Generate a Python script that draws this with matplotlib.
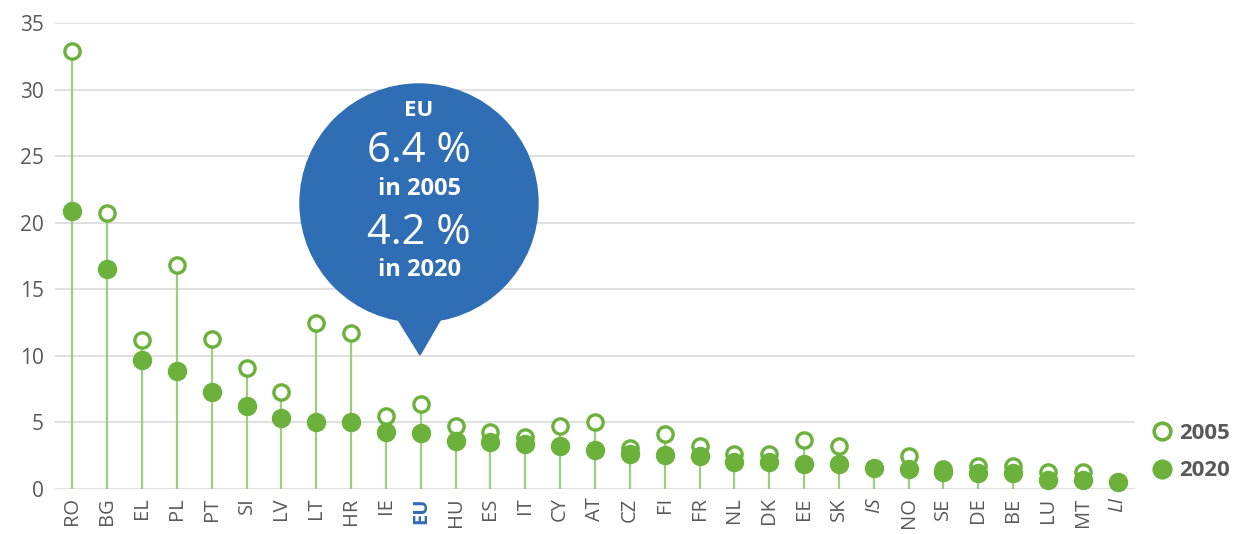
import matplotlib
matplotlib.use("Agg")
import matplotlib.pyplot as plt
from matplotlib.patches import Circle, Polygon
from matplotlib.lines import Line2D

plt.rcParams["font.family"] = ["Open Sans", "DejaVu Sans"]

# valeurs (%)
pays = ["RO", "BG", "EL", "PL", "PT", "SI", "LV", "LT", "HR", "IE", "EU",
        "HU", "ES", "IT", "CY", "AT", "CZ", "FI", "FR", "NL", "DK", "EE",
        "SK", "IS", "NO", "SE", "DE", "BE", "LU", "MT", "LI"]
v2005 = [32.9, 20.7, 11.2, 16.8, 11.3, 9.1, 7.3, 12.5, 11.7, 5.5, 6.4,
         4.7, 4.3, 3.9, 4.7, 5.0, 3.1, 4.1, 3.2, 2.6, 2.6, 3.7,
         3.2, None, 2.5, 1.5, 1.7, 1.7, 1.3, 1.3, None]
v2020 = [20.9, 16.5, 9.7, 8.9, 7.3, 6.2, 5.3, 5.0, 5.0, 4.3, 4.2,
         3.6, 3.5, 3.4, 3.2, 2.9, 2.6, 2.55, 2.45, 2.05, 2.0, 1.9,
         1.9, 1.6, 1.5, 1.3, 1.2, 1.2, 0.7, 0.7, 0.55]
italiques = ["IS", "LI"]
yticks = [0, 5, 10, 15, 20, 25, 30, 35]

VERT = "#6bb13c"
TIGE = "#9dcd7e"
BLEU = "#2f6db5"
GRIS = "#595959"

fig = plt.figure(figsize=(12.44, 5.34), dpi=100)
ax = fig.add_axes([55 / 1244, 1 - 489 / 534, 1080 / 1244, 466 / 534])

x = list(range(len(pays)))
for i in x:
    vals = [v for v in (v2005[i], v2020[i]) if v is not None]
    ax.plot([i, i], [0, max(vals)], color=TIGE, lw=1.6, zorder=2)

x05 = [i for i in x if v2005[i] is not None]
ax.plot(x05, [v2005[i] for i in x05], "o", ms=11, mfc="white", mec=VERT,
        mew=2.4, zorder=3, clip_on=False)
ax.plot(x, v2020, "o", ms=13, color=VERT, zorder=4, clip_on=False)

ax.set_xlim(-0.5, len(pays) - 0.5)
ax.set_ylim(0, 35)
ax.set_yticks(yticks)
ax.grid(axis="y", color="#dadada", lw=1.2, zorder=0)
for s in ax.spines.values():
    s.set_visible(False)
ax.tick_params(length=0, labelsize=15, labelcolor=GRIS, pad=8)
ax.tick_params(axis="x", pad=6)
ax.set_xticks(x)
ax.set_xticklabels(pays, rotation=90, fontsize=14.5)
for lab in ax.get_xticklabels():
    t = lab.get_text()
    if t == "EU":
        lab.set_color(BLEU)
        lab.set_fontweight("bold")
    if t in italiques:
        lab.set_fontstyle("italic")

# bulle EU
ov = fig.add_axes([0, 0, 1, 1])
ov.set_xlim(0, 1244)
ov.set_ylim(534, 0)
ov.axis("off")
ov.add_patch(Circle((419, 203), 119, color=BLEU, zorder=5))
ov.add_patch(Polygon([(392, 310), (446, 310), (420, 355)], closed=True,
                     color=BLEU, zorder=5))
txt = dict(color="white", ha="center", va="center", zorder=6)
ov.text(419, 110, "EU", fontsize=16, fontweight="bold", **txt)
ov.text(419, 151, "6.4 %", fontsize=30, fontweight="medium", **txt)
ov.text(419, 189, "in 2005", fontsize=17, fontweight="bold", **txt)
ov.text(419, 233, "4.2 %", fontsize=30, fontweight="medium", **txt)
ov.text(419, 270, "in 2020", fontsize=17, fontweight="bold", **txt)

poignees = [Line2D([], [], ls="none", marker="o", ms=12, mfc="white",
                   mec=VERT, mew=2.6),
            Line2D([], [], ls="none", marker="o", ms=13.5, color=VERT)]
leg = fig.legend(poignees, ["2005", "2020"], loc="center left",
                 bbox_to_anchor=(1139 / 1244, 1 - 452 / 534), frameon=False,
                 handlelength=0.7, handletextpad=0.4, labelspacing=0.75,
                 borderpad=0.2, prop=dict(size=16, weight="bold"))
for t in leg.get_texts():
    t.set_color(GRIS)

fig.savefig("out.png", dpi=100)
